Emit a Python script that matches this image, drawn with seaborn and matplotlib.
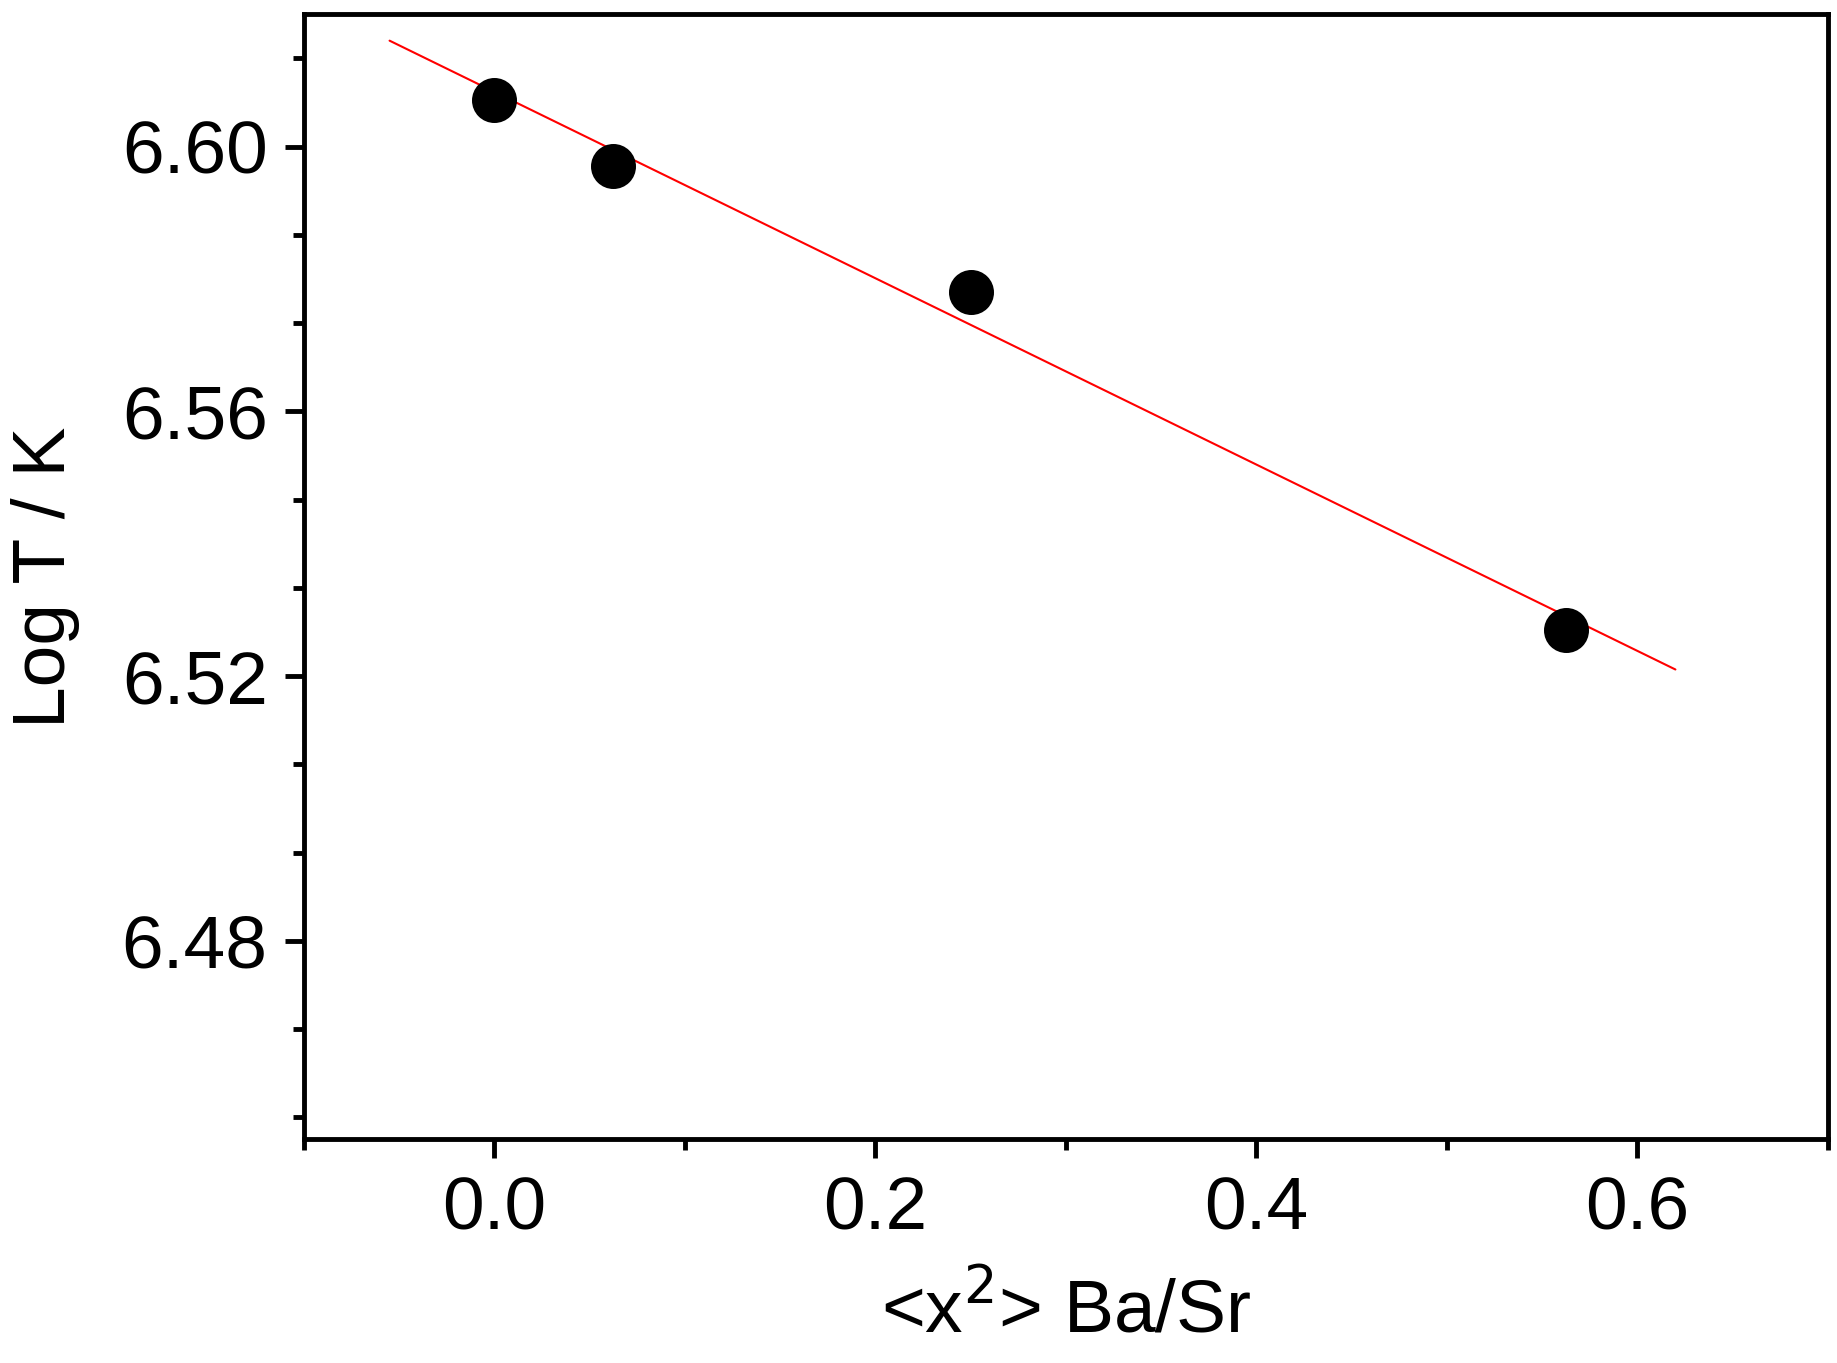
import numpy as np
import matplotlib
matplotlib.use("Agg")
import matplotlib.pyplot as plt
from matplotlib.ticker import MultipleLocator
import seaborn as sns

# measured points
x_vals = [0.0, 0.0625, 0.25, 0.5625]
logT = [6.607, 6.597, 6.578, 6.527]
# linear fit end points
fit_x = [-0.055, 0.62]
fit_y = [6.616, 6.521]

sns.set_style("white")
plt.rcParams['font.family'] = ['Liberation Sans', 'DejaVu Sans']
plt.rcParams['text.color'] = 'black'
plt.rcParams['axes.labelcolor'] = 'black'
plt.rcParams['xtick.color'] = 'black'
plt.rcParams['ytick.color'] = 'black'

fig = plt.figure(figsize=(18.37, 13.63), dpi=100)
ax = fig.add_axes([0.1654, 0.164, 0.8296, 0.8256])

sns.lineplot(x=fit_x, y=fit_y, color='red', lw=1.5, ax=ax)
sns.scatterplot(x=x_vals, y=logT, s=900, color='black', edgecolor='black', ax=ax, zorder=3)

ax.set_xlim(-0.1, 0.7)
ax.set_ylim(6.45, 6.62)
ax.xaxis.set_major_locator(MultipleLocator(0.2))
ax.xaxis.set_minor_locator(MultipleLocator(0.1))
ax.yaxis.set_minor_locator(MultipleLocator(0.04 / 3))
ax.set_yticks(np.arange(6.48, 6.61, 0.04))
ax.yaxis.set_major_formatter(plt.FuncFormatter(lambda v, p: f'{v:.2f}'))
ax.xaxis.set_major_formatter(plt.FuncFormatter(lambda v, p: f'{v:.1f}'))

for s in ax.spines.values():
    s.set_linewidth(3.5)
    s.set_color('black')
ax.tick_params(which='major', direction='out', length=14, width=3.5, labelsize=54, pad=12,
               bottom=True, left=True, top=False, right=False)
ax.tick_params(which='minor', direction='out', length=8, width=3.5,
               bottom=True, left=True, top=False, right=False)

ax.set_xlabel(r'<x$^{2}$> Ba/Sr', fontsize=54, labelpad=22)
ax.set_ylabel('Log T / K', fontsize=54, labelpad=30)

fig.savefig('out.png', dpi=100)
